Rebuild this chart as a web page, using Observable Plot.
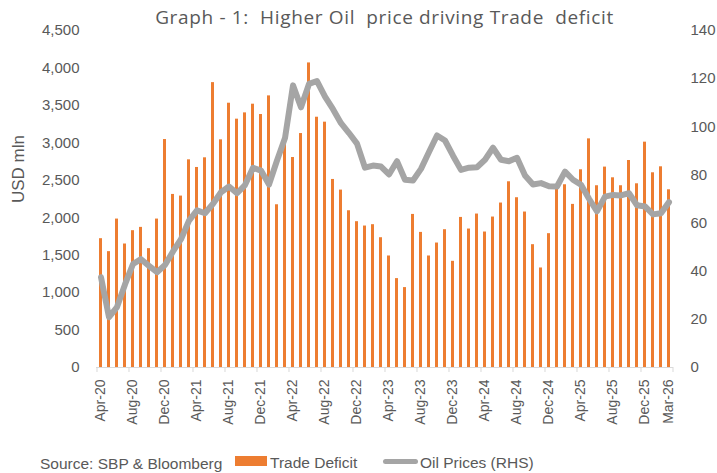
<!DOCTYPE html>
<html>
<head>
<meta charset="utf-8">
<script src="https://cdn.jsdelivr.net/npm/d3@7"></script>
<script src="https://cdn.jsdelivr.net/npm/@observablehq/plot@0.6"></script>
<style>
  body { margin: 0; background: #fff; }
  #wrap { position: relative; width: 717px; height: 473px; overflow: hidden; font-family: "Liberation Sans", Arial, sans-serif; color: #595959; }
  #chart { position: absolute; left: 0; top: 0; }
  #title { position: absolute; left: 96px; width: 577px; top: 5px; text-align: center; font-family: "Open Sans", sans-serif; font-size: 19px; letter-spacing: 0.65px; line-height: 24px; white-space: pre; color: #595959; }
  .lg { position: absolute; font-size: 15.5px; line-height: 16px; white-space: pre; color: #595959; }
</style>
</head>
<body>
<div id="wrap">
  <div id="chart"></div>
  <div id="title">Graph - 1:  Higher Oil  price driving Trade  deficit</div>
  <div class="lg" style="left:40px;top:456px;">Source: SBP &amp; Bloomberg</div>
  <div style="position:absolute;left:235px;top:456px;width:32px;height:10px;background:#ED7D31;"></div>
  <div class="lg" style="left:270px;top:455px;">Trade Deficit</div>
  <div style="position:absolute;left:383px;top:459px;width:35px;height:5px;border-radius:3px;background:#A5A5A5;"></div>
  <div class="lg" style="left:420px;top:455px;">Oil Prices (RHS)</div>
</div>
<script>
// Categories: monthly, Apr-20 .. Mar-26
const months = d3.utcMonths(new Date(Date.UTC(2020, 3, 1)), new Date(Date.UTC(2026, 3, 1))).map(d3.utcFormat("%b-%y"));

// Trade deficit, USD mln (left axis)
const tradeDeficit = [
  1720, 1547, 1982, 1649, 1827, 1871, 1587, 1982, 3044,
  2311, 2289, 2773, 2671, 2800, 3804, 3040, 3529, 3316, 3400, 3516, 3378,
  3627, 2173, 2982, 2804, 3124, 4067, 3342, 3276, 2511, 2369, 2093, 1947,
  1889, 1907, 1733, 1489, 1187, 1067, 2044, 1804, 1489, 1662, 1840, 1418,
  2004, 1849, 2049, 1809, 2009, 2196, 2480, 2267, 2076, 1640, 1329, 1787,
  2400, 2440, 2178, 2640, 3053, 2427, 2676, 2533, 2427, 2764, 2453, 3009,
  2600, 2680, 2373
];

// Oil prices, USD/bbl (right axis)
const oilPrices = [
  37.5, 20.9, 25.1, 34.5, 43.0, 45.0, 42.2, 39.6, 42.6,
  48.2, 53.3, 61.0, 65.3, 64.1, 68.0, 72.8, 75.2, 72.4, 75.8, 83.0, 81.8,
  76.0, 86.0, 95.3, 117.2, 108.1, 117.8, 119.0, 112.5, 107.3, 101.5, 97.4, 93.0,
  83.0, 83.9, 83.5, 80.2, 85.7, 78.0, 77.7, 82.5, 89.5, 96.4, 94.3, 88.0,
  82.1, 83.0, 83.2, 86.3, 91.3, 86.3, 85.7, 87.1, 79.8, 76.0, 76.6, 75.3,
  75.2, 81.4, 78.0, 75.9, 70.1, 64.9, 71.0, 71.7, 71.5, 72.4, 67.4, 66.9,
  63.6, 64.1, 68.7
];

// Axis ticks
const leftTicks = [0, 500, 1000, 1500, 2000, 2500, 3000, 3500, 4000, 4500];
const rightTicks = [0, 20, 40, 60, 80, 100, 120, 140];
const labelMonths = months.filter((m, i) => i % 4 === 0).concat([months[months.length - 1]]);
const boundaryMonths = months.filter((m, i) => i % 4 === 0);

const k = 4500 / 140;
const data = months.map((m, i) => ({month: m, trade: tradeDeficit[i], oil: oilPrices[i]}));

const mL = 96, mR = 44;
const step = (717 - mL - mR) / months.length;

const chart = Plot.plot({
  width: 717,
  height: 440,
  marginLeft: mL,
  marginRight: mR,
  marginTop: 30,
  marginBottom: 73,
  style: {fontFamily: "Liberation Sans, Arial, sans-serif", fontSize: "15px", color: "#595959", background: "transparent", overflow: "visible"},
  x: {type: "band", domain: months, paddingInner: 0.625, paddingOuter: 0.3125},
  y: {domain: [0, 4500]},
  marks: [
    Plot.barY(data, {x: "month", y: "trade", fill: "#ED7D31"}),
    Plot.ruleY([0], {stroke: "#d9d9d9", strokeWidth: 1.2}),
    Plot.axisX({ticks: boundaryMonths, tickSize: 5, tickFormat: () => "", stroke: "#d9d9d9", strokeOpacity: 1, dx: -step / 2, label: null}),
    Plot.axisX({ticks: [months[months.length - 1]], tickSize: 5, tickFormat: () => "", stroke: "#d9d9d9", strokeOpacity: 1, dx: step / 2, label: null}),
    Plot.axisX({ticks: labelMonths, tickSize: 0, tickRotate: -90, tickPadding: 12, fontSize: 14, fill: "#595959", label: null}),
    Plot.lineY(data, {x: "month", y: d => d.oil * k, stroke: "#A5A5A5", strokeWidth: 6, strokeLinejoin: "round", strokeLinecap: "round"}),
    Plot.axisY({ticks: leftTicks, tickFormat: d3.format(","), tickSize: 0, tickPadding: 17, fontSize: 15, fill: "#595959", label: null}),
    Plot.axisY({anchor: "right", ticks: rightTicks.map(v => v * k), tickFormat: d => String(Math.round(d / k)), tickSize: 0, tickPadding: 17, fontSize: 15, fill: "#595959", label: null}),
    Plot.text(["USD mln"], {frameAnchor: "left", rotate: -90, dx: -78, dy: 4, fontSize: 17, fill: "#595959"})
  ]
});
document.getElementById("chart").appendChild(chart);
</script>
</body>
</html>
